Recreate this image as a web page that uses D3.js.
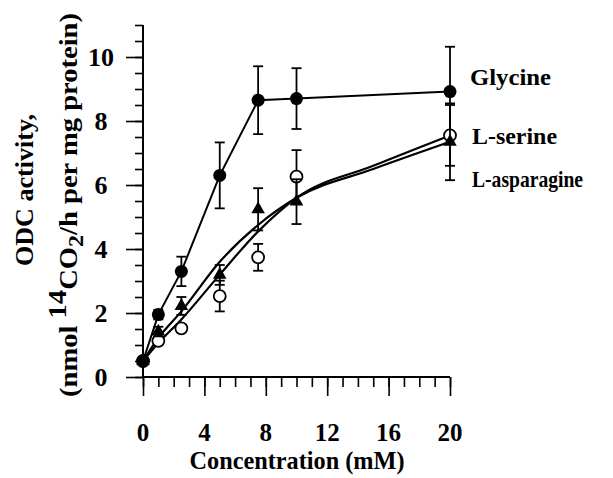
<!DOCTYPE html>
<html>
<head>
<meta charset="utf-8">
<script src="https://cdn.jsdelivr.net/npm/d3@7/dist/d3.min.js"></script>
<style>
  html, body { margin: 0; padding: 0; background: #fff; }
  svg { display: block; }
  text { font-family: "Liberation Serif", "Times New Roman", serif; font-weight: bold; fill: #000; }
</style>
</head>
<body>
<svg id="chart" width="613" height="478"></svg>
<script>
// ---- data ----
const conc = [0, 1, 2.5, 5, 7.5, 10, 20];
const glycine = [0.5, 1.95, 3.3, 6.3, 8.65, 8.7, 8.92];
const glycineErr = [0.1, 0.15, 0.46, 1.03, 1.06, 0.95, 1.4];
const serine = [0.5, 1.13, 1.52, 2.53, 3.74, 6.26, 7.55];
const serineErr = [0.1, 0.12, 0.12, 0.48, 0.42, 0.83, 0.95];
const asparagine = [0.5, 1.42, 2.22, 3.19, 5.24, 5.48, 7.35];
const asparagineErr = [0.1, 0.15, 0.28, 0.31, 0.66, 0.7, 1.2];
// fitted curves
const fitConc = [0, 1, 2.5, 5, 7.5, 10, 15, 20];
const serineFit = [0.5, 1.06, 1.8, 3.2, 4.55, 5.6, 6.6, 7.55];
const asparagineFit = [0.5, 1.22, 2.05, 3.6, 4.75, 5.6, 6.5, 7.35];
const xTicks = [0, 4, 8, 12, 16, 20];
const yTicks = [0, 2, 4, 6, 8, 10];
const legendLabels = ["Glycine", "L-serine", "L-asparagine"];

const svg = d3.select("#chart");
const x = d3.scaleLinear().domain([0, 20]).range([143, 450]);
const y = d3.scaleLinear().domain([0, 11]).range([377, 25]);

// ---- axes ----
const axisG = svg.append("g");
const yMinor = axisG.append("g").attr("transform", `translate(${x(0)},0)`)
  .call(d3.axisLeft(y).tickValues(d3.range(0, 11.01, 0.5)).tickSize(8).tickFormat(""));
const yMajor = axisG.append("g").attr("transform", `translate(${x(0)},0)`)
  .call(d3.axisLeft(y).tickValues(yTicks).tickSize(17).tickFormat(""));
const xMinor = axisG.append("g").attr("transform", `translate(0,${y(0)})`)
  .call(d3.axisBottom(x).tickValues(d3.range(0, 20.01, 1)).tickSize(10).tickFormat(""));
const xMajor = axisG.append("g").attr("transform", `translate(0,${y(0)})`)
  .call(d3.axisBottom(x).tickValues(xTicks).tickSize(19).tickFormat(""));
axisG.selectAll(".domain").attr("stroke", "#000").attr("stroke-width", 2);
axisG.selectAll(".tick line").attr("stroke", "#000").attr("stroke-width", 1.6);
yMinor.select(".domain").attr("d", `M0,${y(11)}V${y(0)}`);
yMajor.select(".domain").remove();
xMinor.select(".domain").attr("d", `M${x(0)},0H${x(20)}`);
xMajor.select(".domain").remove();

// tick labels
svg.append("g").selectAll("text").data(yTicks).join("text")
  .attr("x", 101).attr("y", d => y(d)).attr("dy", "0.36em")
  .attr("text-anchor", "middle").attr("font-size", 26).text(d => d);
svg.append("g").selectAll("text").data(xTicks).join("text")
  .attr("x", d => x(d)).attr("y", 441)
  .attr("text-anchor", "middle").attr("font-size", 25).text(d => d);

// axis titles
svg.append("text").attr("x", 297).attr("y", 469).attr("text-anchor", "middle")
  .attr("font-size", 25).attr("textLength", 215).attr("lengthAdjust", "spacingAndGlyphs")
  .text("Concentration (mM)");

svg.append("text").attr("transform", "translate(33,190) rotate(-90)")
  .attr("text-anchor", "middle").attr("font-size", 25)
  .attr("textLength", 152).attr("lengthAdjust", "spacingAndGlyphs")
  .text("ODC activity,");
const yt2 = svg.append("text").attr("transform", "translate(77,205) rotate(-90)")
  .attr("text-anchor", "middle").attr("font-size", 26)
  .attr("textLength", 384).attr("lengthAdjust", "spacingAndGlyphs");
yt2.append("tspan").text("(nmol ");
yt2.append("tspan").attr("dy", -11).text("14");
yt2.append("tspan").attr("dy", 11).text("CO");
yt2.append("tspan").attr("dy", 6).attr("font-size", 22).text("2");
yt2.append("tspan").attr("dy", -6).text("/h per mg protein)");

// ---- lines ----
const plot = svg.append("g");
const linLine = d3.line().x((d, i) => x(conc[i])).y(d => y(d));
const fitLine = d3.line().x((d, i) => x(fitConc[i])).y(d => y(d)).curve(d3.curveMonotoneX);
plot.append("path").attr("d", linLine(glycine)).attr("fill", "none").attr("stroke", "#000").attr("stroke-width", 2);
plot.append("path").attr("d", fitLine(serineFit)).attr("fill", "none").attr("stroke", "#000").attr("stroke-width", 2.2);
plot.append("path").attr("d", fitLine(asparagineFit)).attr("fill", "none").attr("stroke", "#000").attr("stroke-width", 2.2);

function errBars(vals, errs) {
  const g = plot.append("g").attr("stroke", "#000").attr("stroke-width", 1.8);
  vals.forEach((v, i) => {
    const cx = x(conc[i]), top = y(v + errs[i]), bot = y(v - errs[i]);
    g.append("line").attr("x1", cx).attr("x2", cx).attr("y1", top).attr("y2", bot);
    g.append("line").attr("x1", cx - 5).attr("x2", cx + 5).attr("y1", top).attr("y2", top);
    g.append("line").attr("x1", cx - 5).attr("x2", cx + 5).attr("y1", bot).attr("y2", bot);
  });
}

// glycine
errBars(glycine, glycineErr);
plot.append("g").selectAll("circle").data(glycine).join("circle")
  .attr("cx", (d, i) => x(conc[i])).attr("cy", d => y(d)).attr("r", 6.5).attr("fill", "#000");
// serine
errBars(serine, serineErr);
plot.append("g").selectAll("circle").data(serine).join("circle")
  .attr("cx", (d, i) => x(conc[i])).attr("cy", d => y(d)).attr("r", 6)
  .attr("fill", "#fff").attr("stroke", "#000").attr("stroke-width", 1.8);
// asparagine
errBars(asparagine, asparagineErr);
const tri = d3.symbol().type(d3.symbolTriangle).size(80);
plot.append("g").selectAll("path").data(asparagine).join("path")
  .attr("d", tri).attr("transform", (d, i) => `translate(${x(conc[i])},${y(d)})`).attr("fill", "#000");
plot.append("circle").attr("cx", x(conc[0])).attr("cy", y(glycine[0])).attr("r", 6.5).attr("fill", "#000");

// ---- legend labels ----
const legendY = [85, 144, 187];
const legendW = [81, 85, 111];
svg.append("g").selectAll("text").data(legendLabels).join("text")
  .attr("x", (d, i) => i === 0 ? 470 : 472).attr("y", (d, i) => legendY[i])
  .attr("font-size", 24)
  .attr("textLength", (d, i) => legendW[i]).attr("lengthAdjust", "spacingAndGlyphs")
  .text(d => d);
</script>
</body>
</html>
